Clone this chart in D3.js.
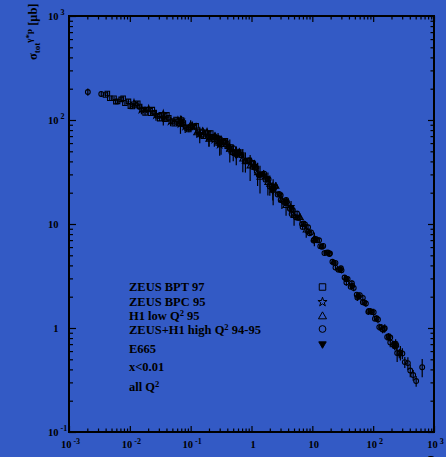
<!DOCTYPE html>
<html lang="en">
<head>
<meta charset="UTF-8">
<title>sigma tot vs tau</title>
<script src="https://d3js.org/d3.v7.min.js"></script>
<style>
    body {
        margin: 0;
        background: #335ac5;
    }
    svg {
        display: block;
    }
    text {
        font-family: "Liberation Serif", "Times New Roman", serif;
        font-weight: bold;
        fill: #000;
    }
    .axis line {
        stroke: #000;
        stroke-width: 1.2px;
    }
    .axis path {
        display: none;
    }
</style>
</head>
<body>
<div id="chart"></div>
<script>
// [tau, sigma (mub), error %]
var zeusBPT97 = [
    [0.00398, 174, 4], [0.00468, 162, 4], [0.0055, 162, 4], [0.0063, 151, 4], [0.0072, 158, 4],
    [0.0083, 145, 4], [0.0095, 151, 5], [0.011, 135, 4], [0.0126, 138, 4], [0.0145, 135, 5],
    [0.0166, 126, 4], [0.019, 126, 5], [0.0219, 116, 4], [0.0251, 117, 5], [0.0288, 110, 4],
    [0.0331, 112, 5], [0.038, 102, 4], [0.0437, 105, 5], [0.0501, 98, 4], [0.0575, 101, 6],
    [0.066, 92, 4], [0.0759, 93, 5], [0.087, 84, 5], [0.1, 85, 4], [0.115, 86, 6],
    [0.132, 78, 5], [0.151, 72, 5], [0.174, 76, 5], [0.2, 68, 6], [0.229, 69, 5],
    [0.263, 68, 6], [0.302, 60, 5], [0.347, 62, 6], [0.398, 56, 5], [0.457, 55, 6],
    [0.525, 48, 6], [0.603, 48, 5], [0.692, 46, 6], [0.794, 40, 6], [0.912, 41, 7],
    [0.00427, 180, 5], [0.00589, 150, 4], [0.00776, 162, 5], [0.0102, 136, 4], [0.0135, 145, 5],
    [0.0178, 117, 5], [0.0234, 126, 5], [0.0309, 103, 5], [0.0407, 112, 6], [0.0537, 92, 5],
    [0.0708, 100, 6], [0.0933, 81, 6], [0.123, 88, 7], [0.162, 70, 6], [0.214, 75, 6],
    [0.282, 60, 7], [0.372, 63, 6], [0.49, 49, 7], [0.646, 49, 7]
];

var zeusBPC95 = [
    [0.0117, 145, 6], [0.0155, 126, 10], [0.0204, 127, 6], [0.0269, 112, 12], [0.0355, 114, 7],
    [0.0468, 97, 10], [0.0617, 98, 8], [0.0813, 87, 14], [0.107, 87, 8], [0.141, 74, 12],
    [0.186, 76, 9], [0.245, 65, 15], [0.324, 63, 9], [0.427, 54, 12], [0.562, 50, 10],
    [0.068, 92, 20], [0.2, 68, 18], [0.3, 58, 22]
];

var h1LowQ95 = [
    [0.1, 89, 12], [0.126, 75, 10], [0.158, 78, 8], [0.2, 65, 15], [0.251, 70, 8],
    [0.316, 58, 20], [0.398, 60, 7], [0.501, 49, 18], [0.631, 49, 8], [0.794, 40, 22],
    [1.0, 39, 10], [1.26, 31, 25], [1.58, 30, 9], [2.0, 24, 22], [2.51, 23, 10],
    [3.16, 17, 18], [3.98, 15.8, 10], [5.01, 12, 20], [6.31, 11.5, 10], [7.94, 8.7, 15],
    [0.44, 52, 25], [0.72, 42, 25], [0.95, 36, 28], [1.38, 28, 30], [1.86, 25, 25],
    [2.27, 21, 28], [3.7, 15, 20], [10.8, 7.2, 15]
];

var highQ9495 = [
    [0.00204, 186, 8], [0.00339, 178, 6],
    [0.251, 68.4, 5], [0.302, 59.7, 5], [0.355, 61.0, 5], [0.417, 55.2, 6], [0.501, 53.7, 5],
    [0.575, 46.2, 6], [0.676, 45.7, 5], [0.794, 40.3, 6], [0.912, 40.7, 5], [1.05, 35.3, 5],
    [1.20, 34.7, 6], [1.35, 30.0, 5], [1.51, 30.2, 6], [1.70, 26.7, 5], [1.91, 26.9, 6],
    [2.14, 23.1, 5], [2.40, 22.6, 6], [2.69, 19.2, 5], [3.02, 18.9, 6], [3.39, 16.4, 5],
    [3.80, 16.4, 7], [4.27, 14.0, 5], [4.79, 13.6, 6], [5.37, 11.6, 5], [6.03, 11.5, 6],
    [6.76, 9.98, 5], [7.59, 9.91, 7], [8.51, 8.49, 5], [9.55, 8.30, 6], [10.7, 7.06, 5],
    [12.0, 6.98, 6], [13.5, 6.12, 5], [15.1, 6.15, 7], [17.0, 5.30, 5], [19.1, 5.14, 6],
    [21.4, 4.33, 5], [24.0, 4.23, 6], [26.9, 3.64, 5], [30.2, 3.60, 7], [33.9, 3.06, 5],
    [38.0, 2.96, 6], [42.7, 2.49, 5], [47.9, 2.43, 7], [53.7, 2.09, 5], [60.3, 2.07, 6],
    [67.6, 1.77, 6], [75.9, 1.72, 7], [85.1, 1.46, 6], [95.5, 1.43, 7], [107, 1.23, 6],
    [120, 1.21, 8], [135, 1.02, 7], [151, 0.98, 8], [170, 0.82, 8], [191, 0.81, 9],
    [214, 0.69, 9], [240, 0.68, 10], [248, 0.575, 18], [269, 0.57, 10], [280, 0.58, 16],
    [302, 0.57, 12], [331, 0.47, 12], [372, 0.46, 14], [407, 0.39, 14], [455, 0.353, 12],
    [509, 0.309, 12], [640, 0.42, 20],
    [1.14, 34.8, 5], [1.43, 30.0, 5], [1.80, 27.3, 5], [2.26, 22.4, 5], [2.85, 19.5, 5],
    [3.59, 15.9, 5], [4.52, 13.8, 5], [5.69, 11.5, 5], [7.16, 10.1, 5], [9.02, 8.15, 5],
    [11.4, 7.18, 5], [14.3, 6.05, 5], [18.0, 5.32, 5], [22.6, 4.23, 5], [28.5, 3.64, 5],
    [35.9, 2.96, 6], [45.2, 2.55, 6], [56.9, 2.02, 6], [71.6, 1.76, 6], [90.2, 1.45, 7],
    [114, 1.24, 7], [143, 0.97, 8], [180, 0.83, 8], [226, 0.67, 9],
    [1.07, 38.6, 6], [1.32, 29.4, 6], [1.62, 30.5, 6], [2.0, 22.9, 6], [2.45, 23.0, 6],
    [3.02, 17.0, 6], [3.72, 17.0, 6], [4.57, 12.5, 6], [5.62, 12.6, 6], [6.92, 9.38, 6],
    [8.51, 9.31, 6], [10.5, 6.93, 6], [12.9, 6.98, 6], [15.8, 5.25, 6], [19.5, 5.22, 6],
    [24.0, 3.81, 6], [29.5, 3.75, 6], [36.3, 2.74, 7], [44.7, 2.69, 7], [55.0, 1.96, 7],
    [67.6, 1.95, 7], [83.2, 1.43, 7], [102, 1.42, 8], [126, 1.02, 8], [155, 0.995, 9],
    [191, 0.726, 10], [234, 0.708, 10]
];

var e665 = [
    [0.0355, 104, 15], [0.0708, 98, 12], [0.141, 73, 18], [0.282, 67, 12],
    [0.562, 46, 20], [1.12, 36, 15], [2.24, 21, 20], [4.47, 14.5, 15]
];

var xTickValues = [1e-3, 1e-2, 1e-1, 1, 10, 1e2, 1e3];
var xTickBase = ["10", "10", "10", "1", "10", "10", "10"];
var xTickExp = ["-3", "-2", "-1", "", "", "2", "3"];

var yTickValues = [0.1, 1, 10, 1e2, 1e3];
var yTickBase = ["10", "1", "10", "10", "10"];
var yTickExp = ["-1", "", "", "2", "3"];

var legendNames = ["ZEUS BPT 97", "ZEUS BPC 95", "H1 low Q^2 95", "ZEUS+H1 high Q^2 94-95"];
var noteLines = ["E665", "x<0.01", "all Q^2"];

var width = 446,
    height = 457;
var margin = {top: 16, right: 12, bottom: 25, left: 69};

var x = d3.scaleLog().domain([1e-3, 1e3]).range([margin.left, width - margin.right]);
var y = d3.scaleLog().domain([0.1, 1e3]).range([height - margin.bottom, margin.top]);

var svg = d3.select("#chart")
    .append("svg")
    .attr("width", width)
    .attr("height", height);

svg.append("rect")
    .attr("width", width)
    .attr("height", height)
    .attr("fill", "#335ac5");

// minor ticks at 2..9 of every decade
function minorTicks(lo, hi) {
    var out = [];
    for (var p = lo; p < hi; p++) {
        for (var k = 2; k <= 9; k++) out.push(k * Math.pow(10, p));
    }
    return out;
}
var xMinor = minorTicks(-3, 3);
var yMinor = minorTicks(-1, 3);

var x0 = margin.left, x1 = width - margin.right;
var y0 = height - margin.bottom, y1 = margin.top;

function drawAxis(axisFn, scale, major, minor, tr, majorLen, minorLen) {
    svg.append("g").attr("class", "axis").attr("transform", tr)
        .call(axisFn(scale).tickValues(major).tickSize(-majorLen).tickFormat(""));
    svg.append("g").attr("class", "axis").attr("transform", tr)
        .call(axisFn(scale).tickValues(minor).tickSize(-minorLen).tickFormat(""));
}
drawAxis(d3.axisBottom, x, xTickValues, xMinor, "translate(0," + y0 + ")", 6, 3.5);
drawAxis(d3.axisTop, x, xTickValues, xMinor, "translate(0," + y1 + ")", 6, 3.5);
drawAxis(d3.axisLeft, y, yTickValues, yMinor, "translate(" + x0 + ",0)", 7, 4);
drawAxis(d3.axisRight, y, yTickValues, yMinor, "translate(" + x1 + ",0)", 6, 3.5);

svg.append("rect")
    .attr("x", x0)
    .attr("y", y1)
    .attr("width", x1 - x0)
    .attr("height", y0 - y1)
    .attr("fill", "none")
    .attr("stroke", "#000")
    .attr("stroke-width", 2);

// x tick labels
var xl = svg.selectAll("text.xlab")
    .data(xTickValues)
    .enter().append("text")
    .attr("class", "xlab")
    .attr("x", function(d) { return x(d) + 1.5; })
    .attr("y", y0 + 16)
    .attr("text-anchor", "middle")
    .style("font-size", "10.5px");
xl.append("tspan").text(function(d, i) { return xTickBase[i]; });
xl.append("tspan")
    .attr("dx", function(d, i) { return xTickExp[i] ? 2 : 0; })
    .attr("dy", -4)
    .style("font-size", "8px")
    .text(function(d, i) { return xTickExp[i]; });

// y tick labels
svg.selectAll("text.ylab")
    .data(yTickValues)
    .enter().append("text")
    .attr("class", "ylab")
    .attr("x", 58.5)
    .attr("y", function(d) { return y(d) + 4; })
    .attr("text-anchor", "end")
    .style("font-size", "10.5px")
    .text(function(d, i) { return yTickBase[i]; });

svg.selectAll("text.yexp")
    .data(yTickValues)
    .enter().append("text")
    .attr("class", "yexp")
    .attr("x", 60.5)
    .attr("y", function(d) { return y(d) - 1; })
    .style("font-size", "8px")
    .text(function(d, i) { return yTickExp[i]; });

// axis titles
var yt = svg.append("text")
    .attr("transform", "translate(37,60) rotate(-90)")
    .style("font-size", "12.5px");
yt.append("tspan").text("σ");
yt.append("tspan").attr("dy", 3).style("font-size", "9px").text("tot");
yt.append("tspan").attr("dy", -8).style("font-size", "9px").text("γ*p");
yt.append("tspan").attr("dy", 5).text(" [μb]");

svg.append("text")
    .attr("x", 431)
    .attr("y", 462)
    .attr("text-anchor", "middle")
    .style("font-size", "12px")
    .text("τ");

// data
var series = [
    {data: zeusBPT97, type: d3.symbolSquare, size: 20, fill: "none", rot: 0},
    {data: zeusBPC95, type: d3.symbolStar, size: 16, fill: "none", rot: 0},
    {data: h1LowQ95, type: d3.symbolTriangle, size: 16, fill: "none", rot: 0},
    {data: highQ9495, type: d3.symbolCircle, size: 18, fill: "none", rot: 0},
    {data: e665, type: d3.symbolTriangle, size: 16, fill: "#000", rot: 180}
];

var plot = svg.append("g");

series.forEach(function(s) {
    plot.selectAll(null)
        .data(s.data)
        .enter().append("line")
        .attr("x1", function(d) { return x(d[0]); })
        .attr("x2", function(d) { return x(d[0]); })
        .attr("y1", function(d) { return y(d[1] * (1 + d[2] / 100)); })
        .attr("y2", function(d) { return y(d[1] * (1 - d[2] / 100)); })
        .attr("stroke", "#000")
        .attr("stroke-width", 1.2);
});

series.forEach(function(s) {
    plot.selectAll(null)
        .data(s.data)
        .enter().append("path")
        .attr("d", d3.symbol().type(s.type).size(s.size))
        .attr("transform", function(d) {
            return "translate(" + x(d[0]) + "," + y(d[1]) + ") rotate(" + s.rot + ")";
        })
        .attr("fill", s.fill)
        .attr("stroke", "#000")
        .attr("stroke-width", 1.1);
});

// legend
function addSup(sel, str) {
    var parts = str.split(/\^(\S)/);
    parts.forEach(function(p, i) {
        if (i % 2 == 1) {
            sel.append("tspan").attr("dy", -4).style("font-size", "8.5px").text(p);
        } else if (p) {
            sel.append("tspan").attr("dy", i > 0 ? 4 : 0).text(p);
        }
    });
}

var legendY = [291, 305.5, 319.5, 333.5];
legendNames.forEach(function(name, i) {
    var t = svg.append("text")
        .attr("x", 129)
        .attr("y", legendY[i])
        .style("font-size", "12.5px");
    addSup(t, name);
});

var noteY = [353, 371, 391];
noteLines.forEach(function(name, i) {
    var t = svg.append("text")
        .attr("x", 129)
        .attr("y", noteY[i])
        .style("font-size", "12.5px");
    addSup(t, name);
});

var legendSym = [
    {type: d3.symbolSquare, size: 42, fill: "none", rot: 0, y: 287},
    {type: d3.symbolStar, size: 26, fill: "none", rot: 0, y: 302},
    {type: d3.symbolTriangle, size: 28, fill: "none", rot: 0, y: 316.5},
    {type: d3.symbolCircle, size: 36, fill: "none", rot: 0, y: 329},
    {type: d3.symbolTriangle, size: 24, fill: "#000", rot: 180, y: 344}
];
svg.selectAll("path.lsym")
    .data(legendSym)
    .enter().append("path")
    .attr("class", "lsym")
    .attr("d", function(d) { return d3.symbol().type(d.type).size(d.size)(); })
    .attr("transform", function(d) { return "translate(322.5," + d.y + ") rotate(" + d.rot + ")"; })
    .attr("fill", function(d) { return d.fill; })
    .attr("stroke", "#000")
    .attr("stroke-width", 1);
</script>
</body>
</html>
